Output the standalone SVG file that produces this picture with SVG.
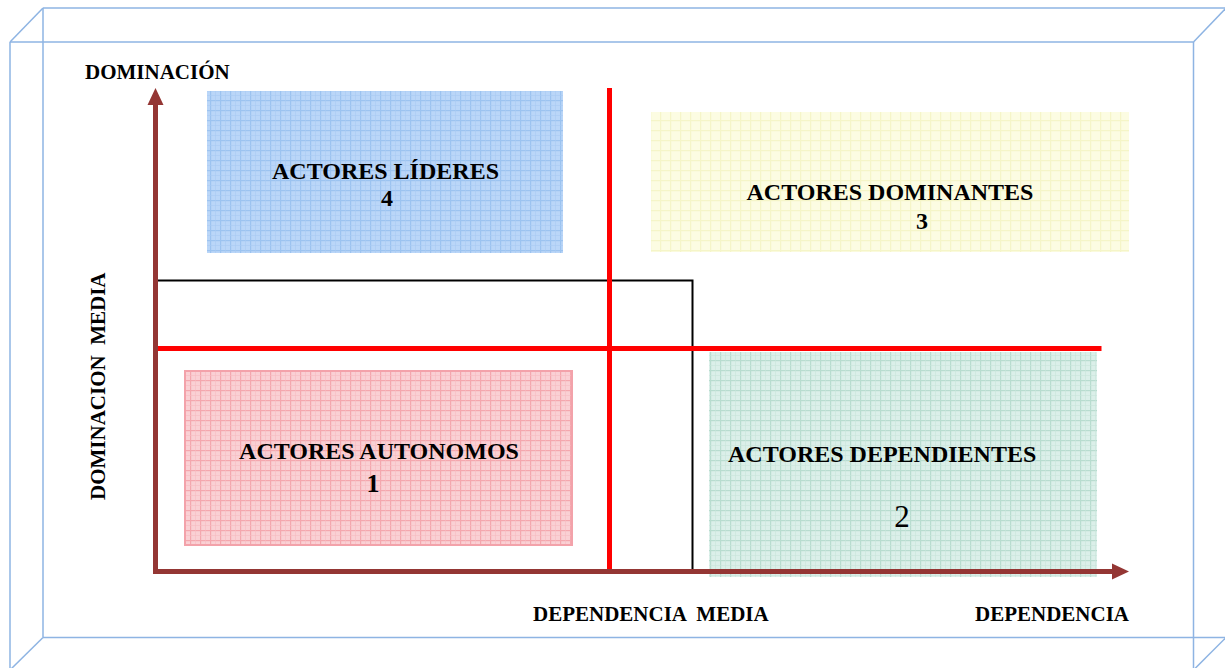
<svg xmlns="http://www.w3.org/2000/svg" width="1225" height="668" viewBox="0 0 1225 668">
<defs>
<style>
.frame{stroke:#8eb4e3;stroke-width:1.5;fill:none}
.lbl{font-family:"Liberation Serif","Times New Roman",serif;font-weight:bold;fill:#000}
.ax{font-size:21px}
.bx{font-size:24px}
.axis{stroke:#943634;stroke-width:5;fill:none}
.axhead{fill:#943634}
.red{stroke:#ff0000;stroke-width:5;fill:none}
</style>
<pattern id="pBlue" width="10" height="10" patternUnits="userSpaceOnUse">
<rect width="10" height="10" fill="#bad6f8"/>
<rect x="0" y="0" width="10" height="1.2" fill="#9cc3f0"/>
<rect x="0" y="0" width="1.2" height="10" fill="#9cc3f0"/>
<rect x="5" y="0" width="0.6" height="10" fill="#a9cbf3"/>
<rect x="0" y="5" width="10" height="0.6" fill="#a9cbf3"/>
</pattern>
<pattern id="pPink" width="10" height="10" patternUnits="userSpaceOnUse">
<rect width="10" height="10" fill="#fad0d4"/>
<rect x="0" y="0" width="10" height="1.2" fill="#f4a7ae"/>
<rect x="0" y="0" width="1.2" height="10" fill="#f4a7ae"/>
<rect x="5" y="0" width="0.6" height="10" fill="#f7bcc2"/>
<rect x="0" y="5" width="10" height="0.6" fill="#f7bcc2"/>
</pattern>
<pattern id="pGreen" width="10" height="10" patternUnits="userSpaceOnUse">
<rect width="10" height="10" fill="#dbefe9"/>
<rect x="0" y="0" width="10" height="1.2" fill="#b8dccf"/>
<rect x="0" y="0" width="1.2" height="10" fill="#b8dccf"/>
<rect x="5" y="0" width="0.6" height="10" fill="#c9e5db"/>
<rect x="0" y="5" width="10" height="0.6" fill="#c9e5db"/>
</pattern>
<pattern id="pYellow" width="10" height="10" patternUnits="userSpaceOnUse">
<rect width="10" height="10" fill="#fcfce2"/>
<rect x="0" y="0" width="10" height="1.2" fill="#f5f5c8"/>
<rect x="0" y="0" width="1.2" height="10" fill="#f5f5c8"/>
</pattern>
</defs>
<rect width="1225" height="668" fill="#ffffff"/>

<g id="frame" class="frame">
<line x1="43" y1="8" x2="1226" y2="8"/>
<line x1="10" y1="42" x2="1193.5" y2="42"/>
<line x1="10" y1="42" x2="43" y2="8"/>
<line x1="1193.5" y1="42" x2="1226" y2="8"/>
<line x1="10" y1="42" x2="10" y2="670"/>
<line x1="43" y1="8" x2="43" y2="637.5"/>
<line x1="43" y1="637.5" x2="1226" y2="637.5"/>
<line x1="1193.5" y1="42" x2="1193.5" y2="670"/>
<line x1="43" y1="637.5" x2="10" y2="670"/>
<line x1="1193.5" y1="670" x2="1226" y2="637.5"/>
</g>

<g id="box-lideres">
<rect x="207" y="91" width="356" height="162" fill="url(#pBlue)"/>
<text class="lbl bx" x="385.5" y="179" text-anchor="middle">ACTORES LÍDERES</text>
<text class="lbl bx" x="387" y="206" text-anchor="middle">4</text>
</g>

<g id="box-dominantes">
<rect x="651" y="112" width="478" height="140" fill="url(#pYellow)"/>
<text class="lbl bx" x="890" y="200" text-anchor="middle">ACTORES DOMINANTES</text>
<text class="lbl bx" x="922" y="229" text-anchor="middle">3</text>
</g>

<g id="box-autonomos">
<rect x="185" y="371" width="387" height="174" fill="url(#pPink)" stroke="#f3a2aa" stroke-width="2"/>
<text class="lbl bx" x="379" y="459" text-anchor="middle">ACTORES AUTONOMOS</text>
<text class="lbl" x="373" y="492" text-anchor="middle" font-size="26">1</text>
</g>

<g id="box-dependientes">
<rect x="709" y="352" width="388" height="225" fill="url(#pGreen)"/>
<text class="lbl bx" x="728" y="462">ACTORES DEPENDIENTES</text>
<text x="902" y="527" text-anchor="middle" font-family="'Liberation Serif','Times New Roman',serif" font-size="31" fill="#000">2</text>
</g>

<g id="connectors">
<polyline points="157,280.5 692.5,280.5 692.5,573" fill="none" stroke="#000" stroke-width="2"/>
<line class="red" x1="609.5" y1="88" x2="609.5" y2="573"/>
<line class="red" x1="157" y1="348.5" x2="1101.5" y2="348.5"/>
<polyline class="axis" points="155.5,103 155.5,571.5 1114,571.5"/>
<polygon class="axhead" points="147.5,105 155.5,88 163.5,105"/>
<polygon class="axhead" points="1112,563.5 1129,571.5 1112,579.5"/>
</g>

<g id="labels">
<text class="lbl ax" x="85" y="79">DOMINACIÓN</text>
<text class="lbl ax" transform="translate(105,500) rotate(-90)" x="0" y="0" xml:space="preserve">DOMINACION  MEDIA</text>
<text class="lbl ax" x="533" y="621" xml:space="preserve">DEPENDENCIA  MEDIA</text>
<text class="lbl ax" x="975" y="621">DEPENDENCIA</text>
</g>
</svg>
